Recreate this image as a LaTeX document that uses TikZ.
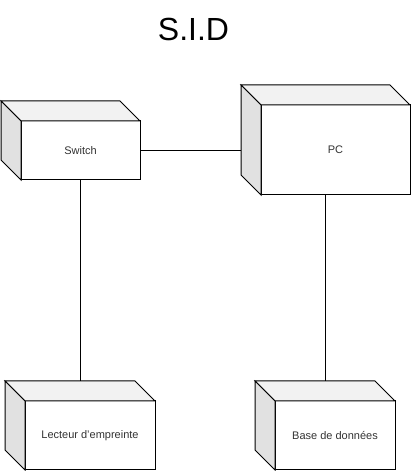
\documentclass[tikz,border=0pt]{standalone}
\usepackage{fontspec}
\setmainfont{Liberation Sans}
\usetikzlibrary{positioning,calc}
\tikzset{>=latex}
\definecolor{topgray}{RGB}{242,242,242}
\definecolor{sidegray}{RGB}{225,225,225}
\tikzset{
  box/.style={draw,fill=white,line width=1pt,outer sep=0pt,inner sep=0pt,
    font=\fontsize{11}{13}\selectfont,text=black!80},
  link/.style={line width=1pt}
}
\newcommand{\boxdepth}{20pt}
% top and left faces of a 3d box
\newcommand{\boxsides}[1]{%
  \filldraw[fill=topgray,line width=1pt] (#1.north west) -- ++(-\boxdepth,\boxdepth) -- ([shift={(-\boxdepth,\boxdepth)}]#1.north east) -- (#1.north east) -- cycle;
  \filldraw[fill=sidegray,line width=1pt] (#1.north west) -- ++(-\boxdepth,\boxdepth) -- ([shift={(-\boxdepth,\boxdepth)}]#1.south west) -- (#1.south west) -- cycle;}
\begin{document}
\begin{tikzpicture}[x=1pt,y=1pt]
	\useasboundingbox (0,0) rectangle (411,471);
	\node[font=\fontsize{32}{38}\selectfont] (title) at (193.5,441.5) {S.I.D};

	\node[box,minimum width=119,minimum height=59] (switch) at (80.5,320.5) {Switch};
	\node[box,minimum width=149,minimum height=90] (pc) at (335.5,321) {PC};
	\node[box,minimum width=130,minimum height=69] (lecteur) at (90,35.5) {Lecteur d'empreinte};
	\node[box,minimum width=120,minimum height=69] (base) at (335,35.5) {Base de données};

	\boxsides{switch}
	\boxsides{pc}
	\boxsides{lecteur}
	\boxsides{base}

	% links
	\coordinate (pcleft) at ([xshift=-\boxdepth]pc.west);
	\draw[link] (switch.east) -- (switch.east -| pcleft);

	\coordinate (lecteurtop) at ([shift={(-10pt,20pt)}]lecteur.north);
	\draw[link] (lecteurtop) -- (lecteurtop |- switch.south);

	\coordinate (basetop) at ([shift={(-10pt,20pt)}]base.north);
	\draw[link] (basetop) -- (basetop |- pc.south);
\end{tikzpicture}
\end{document}
